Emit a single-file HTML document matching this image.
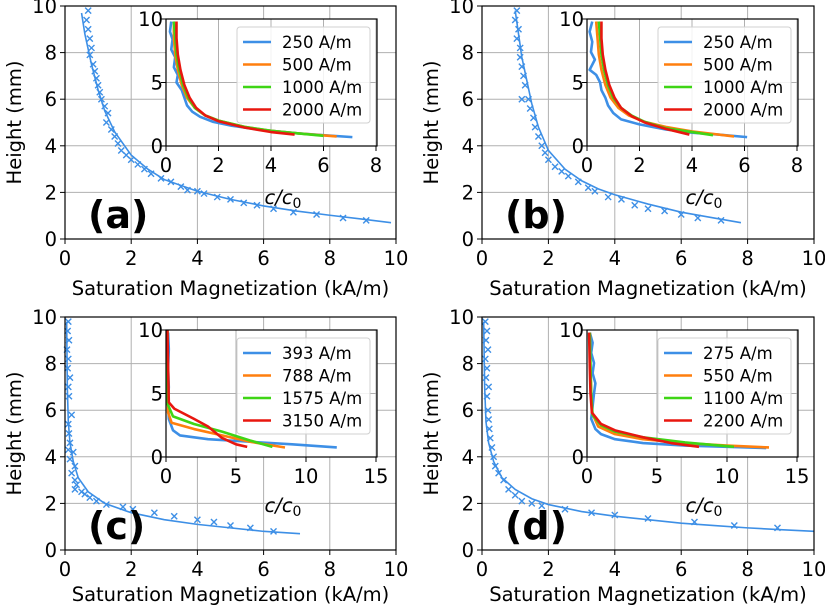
<!DOCTYPE html>
<html><head><meta charset="utf-8"><style>
html,body{margin:0;padding:0;background:#fff}
svg{display:block;font-family:"DejaVu Sans","Liberation Sans",sans-serif}
</style></head><body>
<svg id="fig" width="825" height="609" viewBox="0 0 825 609" xmlns="http://www.w3.org/2000/svg"></svg>
<script>
// ---------- data ----------
const mainXTicks = [0,2,4,6,8,10];
const mainYTicks = [0,2,4,6,8,10];
const insetYTicks = [0,5,10];
const insetXTicksAB = [0,2,4,6,8];
const insetXTicksCD = [0,5,10,15];
const panelLabels = ["(a)","(b)","(c)","(d)"];
const legendA = ["250 A/m","500 A/m","1000 A/m","2000 A/m"];
const legendB = ["250 A/m","500 A/m","1000 A/m","2000 A/m"];
const legendC = ["393 A/m","788 A/m","1575 A/m","3150 A/m"];
const legendD = ["275 A/m","550 A/m","1100 A/m","2200 A/m"];

const fitA = [[0.5,9.7],[0.6,8.8],[0.8,7.5],[1,6.4],[1.2,5.5],[1.5,4.6],[2,3.6],[2.5,3.0],[3,2.55],[4,2.05],[5,1.7],[6,1.42],[7,1.2],[8,1.02],[9,0.85],[9.85,0.7]];
const markA = [[0.7,9.8],[0.65,9.4],[0.7,9.0],[0.75,8.6],[0.8,8.2],[0.75,7.9],[0.85,7.5],[0.9,7.2],[0.95,6.9],[1.0,6.6],[1.05,6.3],[1.1,6.0],[1.2,5.7],[1.3,5.4],[1.25,5.0],[1.4,4.7],[1.5,4.4],[1.6,4.1],[1.7,3.8],[1.85,3.6],[2.0,3.4],[2.2,3.2],[2.4,3.0],[2.6,2.8],[2.9,2.6],[3.2,2.45],[3.5,2.25],[3.7,2.1],[4.0,2.05],[4.2,1.95],[4.6,1.8],[5.0,1.7],[5.4,1.55],[5.8,1.45],[6.3,1.3],[6.9,1.15],[7.6,1.05],[8.4,0.9],[9.1,0.8]];
const fitB = [[1.0,9.8],[1.1,8.8],[1.2,7.8],[1.35,6.8],[1.5,5.8],[1.7,4.8],[2,3.8],[2.5,3.0],[3,2.5],[3.5,2.15],[4,1.9],[5,1.5],[6,1.15],[7,0.9],[7.8,0.7]];
const markB = [[1.05,9.8],[1.0,9.4],[1.1,9.0],[1.05,8.6],[1.15,8.2],[1.15,7.8],[1.2,7.4],[1.25,7.0],[1.3,6.6],[1.2,6.0],[1.4,6.0],[1.45,5.6],[1.55,5.2],[1.6,4.8],[1.7,4.4],[1.8,4.0],[1.9,3.7],[2.0,3.4],[2.2,3.1],[2.4,2.9],[2.6,2.7],[2.9,2.45],[3.2,2.2],[3.4,2.05],[3.8,1.8],[4.2,1.7],[4.6,1.45],[5.0,1.3],[5.5,1.2],[6.0,1.05],[6.5,0.9],[7.2,0.8]];
const fitC = [[0.05,9.8],[0.07,7],[0.1,5.5],[0.15,4.6],[0.25,3.8],[0.4,3.1],[0.7,2.5],[1.2,2.0],[2,1.6],[3,1.3],[4,1.1],[5,0.95],[6,0.8],[7.1,0.7]];
const markC = [[0.1,9.8],[0.08,9.4],[0.12,9.0],[0.06,8.6],[0.1,8.2],[0.08,7.8],[0.15,7.4],[0.1,7.0],[0.12,6.6],[0.2,5.8],[0.1,5.4],[0.12,5.0],[0.15,4.6],[0.1,4.3],[0.25,4.2],[0.15,3.9],[0.3,3.6],[0.2,3.3],[0.3,3.0],[0.35,2.8],[0.3,2.6],[0.5,2.5],[0.6,2.4],[0.75,2.25],[0.95,2.1],[1.25,1.95],[1.75,1.85],[2.05,1.75],[2.7,1.6],[3.3,1.45],[4.0,1.3],[4.5,1.2],[5.0,1.05],[5.6,0.95],[6.3,0.8]];
const fitD = [[0.05,9.8],[0.08,7],[0.12,5.5],[0.2,4.6],[0.35,3.8],[0.6,3.1],[1.0,2.6],[1.5,2.2],[2,1.95],[3,1.65],[4,1.45],[5,1.3],[6,1.15],[7,1.05],[8,0.95],[9,0.87],[10,0.8]];
const markD = [[0.1,9.8],[0.15,9.4],[0.12,9.0],[0.18,8.6],[0.1,8.2],[0.15,7.8],[0.12,7.4],[0.2,7.0],[0.15,6.6],[0.18,6.0],[0.2,5.6],[0.22,5.2],[0.25,4.8],[0.3,4.4],[0.35,4.0],[0.4,3.6],[0.5,3.3],[0.65,3.0],[0.8,2.6],[1.0,2.35],[1.2,2.1],[1.5,2.0],[1.8,1.9],[2.5,1.75],[3.3,1.6],[4.0,1.5],[5.0,1.35],[6.4,1.2],[7.6,1.05],[8.9,0.95]];

const insetA = [
 [[0.2,9.8],[0.15,9.0],[0.25,8.4],[0.2,7.6],[0.35,7.0],[0.3,6.2],[0.45,5.6],[0.4,5.0],[0.6,4.4],[0.7,3.8],[0.8,3.2],[1.0,2.7],[1.3,2.3],[1.8,1.9],[2.5,1.6],[3.5,1.3],[5,1.0],[6,0.85],[7.1,0.7]],
 [[0.3,9.8],[0.3,8.5],[0.35,7.2],[0.45,6.0],[0.6,4.8],[0.8,3.8],[1.1,3.0],[1.5,2.4],[2,2.0],[3,1.5],[4,1.2],[5,1.0],[6.5,0.75]],
 [[0.3,9.8],[0.35,8.5],[0.4,7.2],[0.5,6.0],[0.65,4.8],[0.85,3.8],[1.1,3.0],[1.5,2.4],[2,2.0],[3,1.5],[4,1.2],[5,1.0],[6.0,0.8]],
 [[0.4,9.8],[0.4,8.5],[0.45,7.2],[0.55,6.0],[0.7,4.8],[0.9,3.8],[1.15,3.0],[1.5,2.4],[2,1.95],[3,1.45],[4,1.1],[4.9,0.9]]
];
const insetB = [
 [[0.2,9.8],[0.1,9.0],[0.2,8.2],[0.15,7.4],[0.3,6.8],[0.1,6.0],[0.35,5.6],[0.5,5.0],[0.55,4.4],[0.7,3.8],[0.8,3.2],[1.0,2.6],[1.3,2.1],[2,1.7],[3,1.3],[4,1.05],[5,0.9],[6.1,0.7]],
 [[0.35,9.8],[0.4,8.5],[0.45,7.2],[0.55,6.0],[0.7,4.8],[0.9,3.8],[1.2,3.0],[1.6,2.4],[2.2,1.9],[3,1.5],[4,1.15],[5.6,0.75]],
 [[0.45,9.8],[0.5,8.5],[0.55,7.2],[0.65,6.0],[0.8,4.8],[1.0,3.8],[1.3,3.0],[1.7,2.4],[2.2,1.9],[3,1.4],[4,1.1],[4.8,0.85]],
 [[0.55,9.8],[0.55,8.5],[0.6,7.2],[0.7,6.0],[0.85,4.8],[1.05,3.8],[1.3,3.0],[1.7,2.35],[2.2,1.85],[3,1.35],[3.9,0.9]]
];
const insetC = [
 [[0.15,9.8],[0.2,8.5],[0.15,7.0],[0.2,5.5],[0.15,4.5],[0.2,3.0],[0.5,2.1],[1,1.7],[3,1.4],[6,1.2],[9,1.0],[12.2,0.75]],
 [[0.1,10],[0.12,6],[0.15,3.5],[0.4,2.7],[2,2.2],[4,1.7],[6,1.2],[8.5,0.75]],
 [[0.1,10],[0.1,4.2],[0.5,3.2],[2,2.6],[4,2.0],[6,1.3],[7.6,0.8]],
 [[0.1,10],[0.2,4.3],[0.6,3.8],[2,3.0],[3,2.4],[4,1.5],[5,1.0],[5.8,0.8]]
];
const insetD = [
 [[0.2,9.8],[0.4,9.0],[0.3,8.2],[0.5,7.4],[0.4,6.6],[0.6,5.8],[0.5,5.0],[0.4,4.0],[0.3,3.0],[0.6,2.2],[1,1.8],[2,1.4],[4,1.1],[7,0.9],[10,0.8],[12.8,0.7]],
 [[0.2,9.8],[0.25,7],[0.3,5],[0.35,3.5],[0.8,2.4],[2,1.8],[4,1.4],[7,1.1],[10,0.9],[13,0.75]],
 [[0.2,9.8],[0.25,7],[0.3,5],[0.4,3.3],[1,2.5],[2,2.0],[4,1.55],[7,1.15],[10.5,0.8]],
 [[0.15,9.8],[0.2,7],[0.25,5],[0.35,3.5],[1,2.6],[2,2.1],[4,1.55],[6,1.1],[8,0.8]]
];

const seriesColors = ["#3d8fe6","#ff7f0e","#3fd515","#e8170f"];
const NS = "http://www.w3.org/2000/svg";
const svg = document.getElementById('fig');
function mk(tag, attrs, parent){
  const e = document.createElementNS(NS, tag);
  for (const k in attrs) e.setAttribute(k, attrs[k]);
  (parent||svg).appendChild(e); return e;
}
function scale(d0,d1,r0,r1){ return v => r0 + (v-d0)/(d1-d0)*(r1-r0); }

const panels = [
 {dx:0, idx:0, dy:0, tOff:56, cOff:58, fit:fitA, mark:markA, inset:insetA, ixMax:8, ixTicks:insetXTicksAB, legend:legendA, name:'a'},
 {dx:417, idx:421, dy:0, tOff:56, cOff:58, fit:fitB, mark:markB, inset:insetB, ixMax:8, ixTicks:insetXTicksAB, legend:legendB, name:'b'},
 {dx:0, idx:0, dy:311, tOff:51, cOff:55, fit:fitC, mark:markC, inset:insetC, ixMax:15, ixTicks:insetXTicksCD, legend:legendC, name:'c'},
 {dx:417, idx:421, dy:311, tOff:51, cOff:55, fit:fitD, mark:markD, inset:insetD, ixMax:15, ixTicks:insetXTicksCD, legend:legendD, name:'d'}
];

panels.forEach((p,pi)=>{
  const g = mk('g',{});
  
  
  const L=65+p.dx, R=396+p.dx+(p.dx?1:0), T=6+p.dy, B=239+p.dy;
  const sx=scale(0,10,L,R), sy=scale(0,10,B,T);
  mainXTicks.forEach(t=>{
    mk('line',{x1:sx(t),x2:sx(t),y1:T,y2:B,stroke:'#b0b0b0','stroke-width':1},g);
    mk('line',{x1:sx(t),x2:sx(t),y1:B,y2:B+5,stroke:'#000','stroke-width':1},g);
    const tx=mk('text',{x:sx(t),y:B+26,'font-size':19.5,'text-anchor':'middle',fill:'#000'},g);
    tx.textContent=t;
    
    
  });
  mainYTicks.forEach(t=>{
    mk('line',{x1:L,x2:R,y1:sy(t),y2:sy(t),stroke:'#b0b0b0','stroke-width':1},g);
    mk('line',{x1:L-5,x2:L,y1:sy(t),y2:sy(t),stroke:'#000','stroke-width':1},g);
    const tx=mk('text',{x:L-8,y:sy(t)+7,'font-size':19.5,'text-anchor':'end',fill:'#000'},g);
    tx.textContent=t;
    
    
  });
  const fl=mk('polyline',{points:p.fit.map(d=>sx(d[0])+','+sy(d[1])).join(' '),fill:'none',stroke:seriesColors[0],'stroke-width':1.6},g);
  
  
  p.mark.forEach(d=>{
    const x=sx(d[0]), y=sy(d[1]), s=3;
    const m=mk('path',{d:`M${x-s},${y-s}L${x+s},${y+s}M${x-s},${y+s}L${x+s},${y-s}`,stroke:seriesColors[0],'stroke-width':1.4},g);
    
    
  });
  mk('rect',{x:L,y:T,width:R-L,height:B-T,fill:'none',stroke:'#000','stroke-width':1.2},g);
  const xl=mk('text',{x:(L+R)/2,y:B+p.tOff,'font-size':19.5,'text-anchor':'middle'},g);
  xl.textContent='Saturation Magnetization (kA/m)';
  
  
  const yx=L-44, yy=(T+B)/2;
  const yl=mk('text',{x:yx,y:yy,'font-size':19.5,'text-anchor':'middle',transform:`rotate(-90 ${yx} ${yy})`},g);
  yl.textContent='Height (mm)';
  
  
  const pl=mk('text',{x:L+23,y:B-11,'font-size':38,'font-weight':'bold'},g);
  pl.textContent=panelLabels[pi];
  
  
  // inset
  const iL=166+p.idx, iR=377+p.idx, iT=19+p.dy, iB=146+p.dy;
  const ix=scale(0,p.ixMax,iL,iR-1), iy=scale(0,10,iB,iT);
  const ig=mk('g',{},g);
  
  
  mk('rect',{x:iL,y:iT,width:iR-iL,height:iB-iT,fill:'#fff'},ig);
  p.ixTicks.forEach(t=>{
    mk('line',{x1:ix(t),x2:ix(t),y1:iT,y2:iB,stroke:'#b0b0b0','stroke-width':1},ig);
    mk('line',{x1:ix(t),x2:ix(t),y1:iB,y2:iB+5,stroke:'#000'},ig);
    const tx=mk('text',{x:ix(t),y:iB+26,'font-size':19.5,'text-anchor':'middle'},ig);
    tx.textContent=t;
    
    
  });
  insetYTicks.forEach(t=>{
    mk('line',{x1:iL,x2:iR,y1:iy(t),y2:iy(t),stroke:'#b0b0b0','stroke-width':1},ig);
    mk('line',{x1:iL-5,x2:iL,y1:iy(t),y2:iy(t),stroke:'#000'},ig);
    const tx=mk('text',{x:iL-3,y:iy(t)+7,'font-size':19.5,'text-anchor':'end'},ig);
    tx.textContent=t;
    
    
  });
  p.inset.forEach((ser,si)=>{
    const ln=mk('polyline',{points:ser.map(d=>ix(d[0])+','+iy(d[1])).join(' '),fill:'none',stroke:seriesColors[si],'stroke-width':2.6,'stroke-linejoin':'round'},ig);
    
    
  });
  mk('rect',{x:iL,y:iT,width:iR-iL,height:iB-iT,fill:'none',stroke:'#000','stroke-width':1.2},ig);
  const cl=mk('text',{x:iL+117,y:iB+p.cOff,'font-size':19.5,'text-anchor':'middle','font-style':'italic'},ig);
  cl.innerHTML='c/c<tspan font-size="14" dy="4" font-style="normal">0</tspan>';
  
  
  const lg=mk('g',{},ig);
  
  
  const lL=iL+71, lT=iT+8;
  mk('rect',{x:lL,y:lT,width:133,height:96,rx:3,fill:'#fff','fill-opacity':0.85,stroke:'#d0d0d0'},lg);
  p.legend.forEach((txt,li)=>{
    const yy2=lT+15+li*22.5;
    const e=mk('g',{},lg);
    
    
    mk('line',{x1:lL+6,x2:lL+34,y1:yy2,y2:yy2,stroke:seriesColors[li],'stroke-width':2.6},e);
    const t=mk('text',{x:lL+45,y:yy2+6,'font-size':16.5},e);
    t.textContent=txt;
  });
});
</script>
</body></html>
